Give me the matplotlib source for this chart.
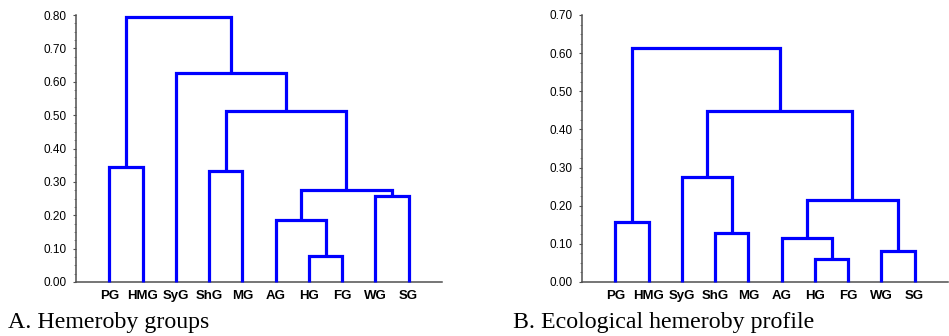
import numpy as np
import matplotlib
matplotlib.use("Agg")
import matplotlib.pyplot as plt
from matplotlib.ticker import MultipleLocator, FormatStrFormatter

# leaf order as drawn on both dendrograms
labels = ["PG", "HMG", "SyG", "ShG", "MG", "AG", "HG", "FG", "WG", "SG"]

# merges: (cluster a, cluster b, linkage distance); leaves are 0-9, new clusters 10+
merges_a = [
    (0, 1, 0.345),
    (3, 4, 0.333),
    (6, 7, 0.079),
    (5, 12, 0.185),
    (8, 9, 0.258),
    (13, 14, 0.275),
    (11, 15, 0.512),
    (2, 16, 0.627),
    (10, 17, 0.793),
]
merges_b = [
    (0, 1, 0.156),
    (3, 4, 0.129),
    (2, 11, 0.276),
    (6, 7, 0.059),
    (5, 13, 0.116),
    (8, 9, 0.081),
    (14, 15, 0.214),
    (12, 16, 0.449),
    (10, 17, 0.613),
]

captions = ["A. Hemeroby groups", "B. Ecological hemeroby profile"]
ymax = [0.80, 0.70]

W, H = 949, 336
fig = plt.figure(figsize=(W / 100, H / 100), dpi=100)


def draw_dendro(ax, merges):
    n = len(labels)
    xpos = {i: i + 1 for i in range(n)}
    ypos = {i: 0.0 for i in range(n)}
    for k, (a, b, h) in enumerate(merges):
        xa, xb = xpos[a], xpos[b]
        ax.plot([xa, xa, xb, xb], [ypos[a], h, h, ypos[b]], color="#0000ff",
                lw=2.3, solid_joinstyle="miter", solid_capstyle="butt",
                clip_on=False, zorder=3)
        xpos[n + k] = (xa + xb) / 2
        ypos[n + k] = h


for i, merges in enumerate([merges_a, merges_b]):
    x0 = [76, 582][i]
    ax = fig.add_axes([x0 / W, 1 - 282 / H, 366 / W, 267 / H])
    draw_dendro(ax, merges)
    ax.set_xlim(0, 11)
    ax.set_ylim(0, ymax[i])
    ax.set_xticks(np.arange(1, len(labels) + 1))
    ax.set_xticklabels(labels, fontsize=9.5, fontweight="bold",
                       fontfamily="Liberation Sans")
    ax.tick_params(axis="x", length=0, pad=5.5)
    ax.yaxis.set_major_locator(MultipleLocator(0.1))
    ax.yaxis.set_minor_locator(MultipleLocator(0.025))
    ax.yaxis.set_major_formatter(FormatStrFormatter("%.2f"))
    ax.tick_params(axis="y", which="major", length=2.5, width=0.8,
                   color="#505050", labelsize=8.5, pad=4)
    ax.tick_params(axis="y", which="minor", length=1.2, width=0.6,
                   color="#808080")
    for t in ax.get_yticklabels():
        t.set_fontfamily("Liberation Sans")
    for s in ["top", "right"]:
        ax.spines[s].set_visible(False)
    for s in ["left", "bottom"]:
        ax.spines[s].set_color("#505050")
        ax.spines[s].set_linewidth(1.1)
    fig.text([8, 513][i] / W, 1 - 328 / H, captions[i], fontsize=17.2,
             fontfamily="Liberation Serif", va="baseline", ha="left")

fig.savefig("out.png", dpi=100)
